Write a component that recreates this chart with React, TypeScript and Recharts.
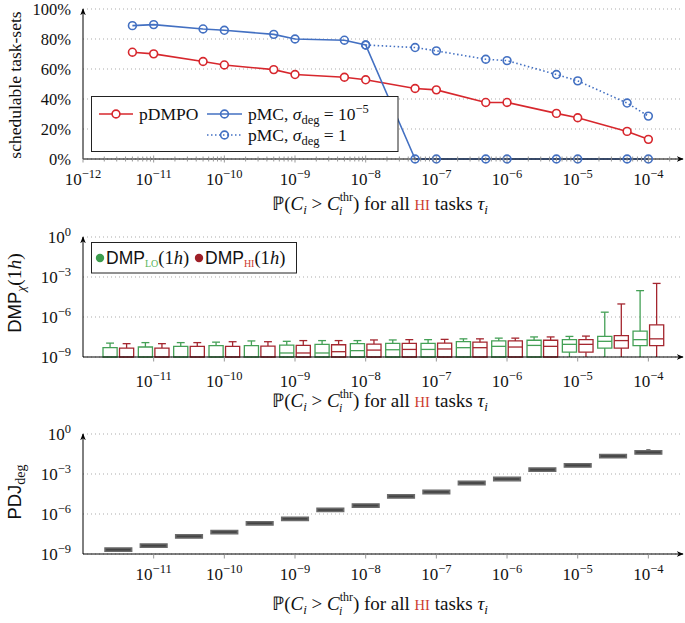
import React from 'react';
import {
  CartesianGrid,
  ComposedChart,
  Line,
  ReferenceArea,
  ReferenceLine,
  Scatter,
  XAxis,
  YAxis,
} from 'recharts';

// ---- panel 1: schedulability ----
const THRESHOLDS = [5e-12, 1e-11, 5e-11, 1e-10, 5e-10, 1e-9, 5e-9, 1e-8, 5e-8, 1e-7, 5e-7, 1e-6, 5e-6, 1e-5, 5e-5, 1e-4];
const PDMPO = [71.2, 70.1, 65, 62.7, 59.6, 56.3, 54.5, 52.8, 47, 46.1, 37.7, 37.7, 30.4, 27.5, 18.4, 13.1];
const PMC_DEG_1E5 = [88.9, 89.6, 86.7, 85.8, 83.1, 80, 79.2, 76, 0, 0, 0, 0, 0, 0, 0, 0];
const PMC_DEG_1 = [null, null, null, null, null, null, null, 76, 74.3, 72.1, 66.5, 65.6, 56.3, 52.1, 37.3, 28.6];
const PCT_TICKS = [0, 20, 40, 60, 80, 100];
const DECADE_TICKS = [1e-12, 1e-11, 1e-10, 1e-9, 1e-8, 1e-7, 1e-6, 1e-5, 1e-4];
const MINOR_STEPS = [2, 3, 4, 5, 6, 7, 8, 9];

// ---- panels 2 and 3: one group per threshold, half a decade apart ----
const BOX_POS = [-11.5, -11, -10.5, -10, -9.5, -9, -8.5, -8, -7.5, -7, -6.5, -6, -5.5, -5, -4.5, -4];
const EXP_TICKS = [-11, -10, -9, -8, -7, -6, -5, -4];
const LOG_TICKS = [1e-9, 1e-6, 1e-3, 1];

const LO_MAX = [1.1e-8, 1.2e-8, 1.2e-8, 1.3e-8, 1.6e-8, 1.5e-8, 1.7e-8, 1.7e-8, 1.9e-8, 2.0e-8, 2.3e-8, 2.6e-8, 3.2e-8, 3.5e-8, 2.3e-6, 9.5e-5];
const LO_Q3 = [5.0e-9, 5.6e-9, 6.3e-9, 7.1e-9, 7.1e-9, 7.9e-9, 8.9e-9, 1.0e-8, 1.05e-8, 1.05e-8, 1.4e-8, 1.6e-8, 1.8e-8, 2.0e-8, 3.5e-8, 8.7e-8];
const LO_MED = [1e-9, 1e-9, 1e-9, 1e-9, 1e-9, 2.0e-9, 2.0e-9, 3.0e-9, 3.5e-9, 3.7e-9, 5.0e-9, 6.3e-9, 7.4e-9, 8.9e-9, 1.5e-8, 2.0e-8];
const LO_Q1 = [1e-9, 1e-9, 1e-9, 1e-9, 1e-9, 1e-9, 1e-9, 1e-9, 1e-9, 1e-9, 1e-9, 1e-9, 1e-9, 2.3e-9, 4.7e-9, 7.1e-9];
const LO_MIN = [1e-9, 1e-9, 1e-9, 1e-9, 1e-9, 1e-9, 1e-9, 1e-9, 1e-9, 1e-9, 1e-9, 1e-9, 1e-9, 1e-9, 1e-9, 1e-9];

const HI_MAX = [1.0e-8, 1.0e-8, 1.2e-8, 1.4e-8, 1.4e-8, 1.7e-8, 1.7e-8, 1.9e-8, 2.0e-8, 2.1e-8, 2.3e-8, 2.6e-8, 3.2e-8, 3.7e-8, 9.5e-6, 3.3e-4];
const HI_Q3 = [4.7e-9, 4.7e-9, 6.3e-9, 6.3e-9, 6.6e-9, 7.4e-9, 8.3e-9, 9.3e-9, 1.05e-8, 1.1e-8, 1.3e-8, 1.6e-8, 1.8e-8, 2.0e-8, 4.0e-8, 2.6e-7];
const HI_MED = [1e-9, 1e-9, 1e-9, 1e-9, 1e-9, 2.0e-9, 2.5e-9, 3.3e-9, 3.7e-9, 4.0e-9, 5.0e-9, 5.6e-9, 6.3e-9, 8.9e-9, 1.7e-8, 2.3e-8];
const HI_Q1 = [1e-9, 1e-9, 1e-9, 1e-9, 1e-9, 1e-9, 1e-9, 1e-9, 1e-9, 1e-9, 1e-9, 1e-9, 1e-9, 2.3e-9, 4.7e-9, 7.1e-9];
const HI_MIN = [1e-9, 1e-9, 1e-9, 1e-9, 1e-9, 1e-9, 1e-9, 1e-9, 1e-9, 1e-9, 1e-9, 1e-9, 1e-9, 1e-9, 1e-9, 1e-9];

const PDJ_Q1 = [1.55e-9, 3.1e-9, 1.55e-8, 3.25e-8, 1.5e-7, 3.25e-7, 1.5e-6, 3.2e-6, 1.55e-5, 3.3e-5, 1.55e-4, 3.1e-4, 1.55e-3, 3.25e-3, 1.6e-2, 3.1e-2];
const PDJ_MED = [2.1e-9, 4.2e-9, 2.1e-8, 4.4e-8, 2.0e-7, 4.4e-7, 2.0e-6, 4.3e-6, 2.1e-5, 4.5e-5, 2.1e-4, 4.2e-4, 2.1e-3, 4.4e-3, 2.2e-2, 4.2e-2];
const PDJ_Q3 = [2.85e-9, 5.7e-9, 2.85e-8, 5.9e-8, 2.7e-7, 5.9e-7, 2.7e-6, 5.8e-6, 2.85e-5, 6.1e-5, 2.85e-4, 5.7e-4, 2.85e-3, 5.9e-3, 3.0e-2, 5.7e-2];
const PDJ_MAX = [2.85e-9, 5.7e-9, 2.85e-8, 5.9e-8, 2.7e-7, 5.9e-7, 2.7e-6, 5.8e-6, 2.85e-5, 6.1e-5, 2.85e-4, 5.7e-4, 2.85e-3, 5.9e-3, 3.0e-2, 6.6e-2];

const SERIF = '"Liberation Serif", "Times New Roman", serif';
const SANS = '"Liberation Sans", Arial, sans-serif';
const RED = '#d7272d';
const BLUE = '#4370c2';
const GREEN = '#44a056';
const DARKRED = '#a4262f';
const HI_RED = '#cc3b2e';
const LO_GREEN = '#5cb65c';
const GRID = '#ababab';

const X_MAX = 3.09e-4;
const X_MAX_EXP = -3.51;
const LOG_MIN = 1e-9;

const successData = THRESHOLDS.map((x, i) => ({ x, pdmpo: PDMPO[i], pmc5: PMC_DEG_1E5[i], pmc1: PMC_DEG_1[i] }));
const xTicks = [
  ...DECADE_TICKS,
  ...DECADE_TICKS.flatMap(d => MINOR_STEPS.map(s => s * d)).filter(v => v < 2.5e-4),
].sort((a, b) => a - b);

const makeBoxes = (min: number[], q1: number[], med: number[], q3: number[], max: number[], shift: number) =>
  BOX_POS.map((p, i) => ({ x: p + shift, min: min[i], q1: q1[i], med: med[i], q3: q3[i], max: max[i] }));

const loBoxes = makeBoxes(LO_MIN, LO_Q1, LO_MED, LO_Q3, LO_MAX, -0.117);
const hiBoxes = makeBoxes(HI_MIN, HI_Q1, HI_MED, HI_Q3, HI_MAX, 0.117);
const pdjBoxes = makeBoxes(PDJ_Q1, PDJ_Q1, PDJ_MED, PDJ_Q3, PDJ_MAX, 0);

type Box = ReturnType<typeof makeBoxes>[number];

function boxElements(boxes: Box[], id: string, color: string, fill: string, half: number, cap: number) {
  return boxes.flatMap((b, i) => {
    const els = [];
    if (b.max > b.q3) {
      els.push(
        <ReferenceLine key={`${id}w${i}`} segment={[{ x: b.x, y: b.q3 }, { x: b.x, y: b.max }]}
          stroke={color} strokeWidth={1.3} ifOverflow="visible" />,
        <ReferenceLine key={`${id}c${i}`} segment={[{ x: b.x - cap, y: b.max }, { x: b.x + cap, y: b.max }]}
          stroke={color} strokeWidth={1.3} ifOverflow="visible" />,
      );
    }
    if (b.q1 > b.min) {
      els.push(
        <ReferenceLine key={`${id}l${i}`} segment={[{ x: b.x, y: b.min }, { x: b.x, y: b.q1 }]}
          stroke={color} strokeWidth={1.3} ifOverflow="visible" />,
      );
    }
    els.push(
      <ReferenceArea key={`${id}b${i}`} x1={b.x - half} x2={b.x + half} y1={b.q1} y2={b.q3}
        fill={fill} fillOpacity={1} stroke={color} strokeWidth={1.3} ifOverflow="visible" />,
    );
    return els;
  });
}

const medianShape = (color: string, half: number) => (props: any) => (
  <line x1={props.cx - half} x2={props.cx + half} y1={props.cy} y2={props.cy} stroke={color} strokeWidth={1.3} />
);

function PowerLabel({ x, y, exp, anchor }: { x: number; y: number; exp: number; anchor: 'middle' | 'end' }) {
  return (
    <text x={x} y={y} textAnchor={anchor} fontFamily={SERIF} fontSize={17} fill="#111">
      10<tspan fontSize={12.5} dy={-7.5}>{exp < 0 ? `\u2212${-exp}` : `${exp}`}</tspan>
    </text>
  );
}

const DecadeTick = (props: any) => {
  const { x, y, payload } = props;
  const lg = Math.log10(payload.value);
  const exp = Math.round(lg);
  const major = Math.abs(lg - exp) < 1e-6;
  const h = major ? 3.5 : 2.5;
  return (
    <g>
      <line x1={x} x2={x} y1={y - h} y2={y + h} stroke="#8c8c8c" strokeWidth={0.9} />
      {major && <PowerLabel x={x} y={y + 26} exp={exp} anchor="middle" />}
    </g>
  );
};

const expTick = (labelDy: number) => (props: any) => {
  const { x, y, payload } = props;
  return (
    <g>
      <line x1={x} x2={x} y1={y} y2={y + 4.5} stroke="#8c8c8c" strokeWidth={0.9} />
      <PowerLabel x={x} y={y + labelDy} exp={payload.value} anchor="middle" />
    </g>
  );
};

const LogYTick = (props: any) => {
  const { x, y, payload } = props;
  return <PowerLabel x={x - 12} y={y + 6} exp={Math.round(Math.log10(payload.value))} anchor="end" />;
};

const PctTick = (props: any) => {
  const { x, y, payload } = props;
  return (
    <text x={x - 12} y={y + 6} textAnchor="end" fontFamily={SERIF} fontSize={16.5} fill="#111">
      {payload.value}%
    </text>
  );
};

const xAxisLine = { stroke: '#000', strokeWidth: 1, markerEnd: 'url(#axisArrow)' };
const yAxisLine = { stroke: '#000', strokeWidth: 1, markerStart: 'url(#axisArrow)' };

function XTitle({ y }: { y: number }) {
  return (
    <text x={380} y={y} textAnchor="middle" fontFamily={SERIF} fontSize={19} fill="#111">
      <tspan>ℙ(</tspan>
      <tspan fontStyle="italic">C</tspan>
      <tspan fontSize={13} fontStyle="italic" dy={4}>i</tspan>
      <tspan dy={-4}>{' > '}</tspan>
      <tspan fontStyle="italic">C</tspan>
      <tspan fontSize={12} dy={-9}>thr</tspan>
      <tspan fontSize={12} fontStyle="italic" dx={-14} dy={14}>i</tspan>
      <tspan dx={10.5} dy={-5}>{') for all '}</tspan>
      <tspan fill={HI_RED} fontSize={14.5}>HI</tspan>
      <tspan>{' tasks '}</tspan>
      <tspan fontStyle="italic">τ</tspan>
      <tspan fontSize={13} fontStyle="italic" dy={4}>i</tspan>
    </text>
  );
}

function Overlay() {
  return (
    <svg width={685} height={623} style={{ position: 'absolute', left: 0, top: 0, pointerEvents: 'none' }}>
      {/* y titles */}
      <text transform="rotate(-90)" x={-85} y={21} textAnchor="middle" fontFamily={SERIF} fontSize={17.5} fill="#111">
        schedulable task-sets
      </text>
      <text transform="rotate(-90)" x={-293} y={21} textAnchor="middle" fontFamily={SANS} fontSize={18.5} fill="#111">
        DMP<tspan fontFamily={SERIF} fontStyle="italic" fontSize={13.5} dy={4}>χ</tspan>
        <tspan fontFamily={SERIF} fontSize={19.5} dy={-4}>(1</tspan>
        <tspan fontFamily={SERIF} fontSize={19.5} fontStyle="italic">h</tspan>
        <tspan fontFamily={SERIF} fontSize={19.5}>)</tspan>
      </text>
      <text transform="rotate(-90)" x={-492} y={21} textAnchor="middle" fontFamily={SANS} fontSize={18.5} fill="#111">
        PDJ<tspan fontFamily={SERIF} fontSize={14} dy={4}>deg</tspan>
      </text>

      <XTitle y={210} />
      <XTitle y={407} />
      <XTitle y={610} />

      {/* legend, panel 1 */}
      <rect x={91.5} y={96.5} width={306.5} height={55} fill="#fff" stroke="#222" strokeWidth={1} />
      <line x1={99} x2={133} y1={114} y2={114} stroke={RED} strokeWidth={1.6} />
      <circle cx={116} cy={114} r={3.9} fill="#fff" stroke={RED} strokeWidth={1.6} />
      <text x={139} y={119.5} fontFamily={SERIF} fontSize={17.5} fill="#111">pDMPO</text>
      <line x1={207} x2={242} y1={114} y2={114} stroke={BLUE} strokeWidth={1.6} />
      <circle cx={224.5} cy={114} r={3.9} fill="none" stroke={BLUE} strokeWidth={1.6} />
      <text x={248} y={119.5} fontFamily={SERIF} fontSize={17.5} fill="#111">
        pMC, <tspan fontStyle="italic">σ</tspan>
        <tspan fontSize={12.5} dy={4}>deg</tspan>
        <tspan dy={-4}>{' = 10'}</tspan>
        <tspan fontSize={12.5} dy={-7}>−5</tspan>
      </text>
      <line x1={207} x2={242} y1={135} y2={135} stroke={BLUE} strokeWidth={1.6} strokeDasharray="1.5 2.5" />
      <circle cx={224.5} cy={135} r={3.9} fill="none" stroke={BLUE} strokeWidth={1.6} />
      <text x={248} y={140.5} fontFamily={SERIF} fontSize={17.5} fill="#111">
        pMC, <tspan fontStyle="italic">σ</tspan>
        <tspan fontSize={12.5} dy={4}>deg</tspan>
        <tspan dy={-4}>{' = 1'}</tspan>
      </text>

      {/* legend, panel 2 */}
      <rect x={91.5} y={242.5} width={205} height={30.5} fill="#fff" stroke="#222" strokeWidth={1} />
      <circle cx={100} cy={258} r={4.2} fill="#3c9c4d" />
      <text x={106} y={264} fontFamily={SANS} fontSize={17.5} fill="#111">
        DMP<tspan fontFamily={SERIF} fontSize={10} dy={3} fill={LO_GREEN}>LO</tspan>
        <tspan fontFamily={SERIF} fontSize={18.5} dy={-3}>(1</tspan>
        <tspan fontFamily={SERIF} fontSize={18.5} fontStyle="italic">h</tspan>
        <tspan fontFamily={SERIF} fontSize={18.5}>)</tspan>
      </text>
      <circle cx={199} cy={258} r={4.2} fill="#9e1f27" />
      <text x={205} y={264} fontFamily={SANS} fontSize={17.5} fill="#111">
        DMP<tspan fontFamily={SERIF} fontSize={10} dy={3} fill={HI_RED}>HI</tspan>
        <tspan fontFamily={SERIF} fontSize={18.5} dy={-3}>(1</tspan>
        <tspan fontFamily={SERIF} fontSize={18.5} fontStyle="italic">h</tspan>
        <tspan fontFamily={SERIF} fontSize={18.5}>)</tspan>
      </text>
    </svg>
  );
}

export default function App() {
  const loMed = loBoxes.filter(b => b.med > LOG_MIN).map(b => ({ x: b.x, y: b.med }));
  const hiMed = hiBoxes.filter(b => b.med > LOG_MIN).map(b => ({ x: b.x, y: b.med }));
  const pdjMed = pdjBoxes.map(b => ({ x: b.x, y: b.med }));

  return (
    <div style={{ position: 'absolute', left: 0, top: 0, width: 685, height: 623, background: '#fff', overflow: 'hidden' }}>
      <svg width={0} height={0} style={{ position: 'absolute' }}>
        <defs>
          <marker id="axisArrow" viewBox="0 0 10 10" refX={9} refY={5} markerWidth={7} markerHeight={7}
            orient="auto-start-reverse" markerUnits="userSpaceOnUse">
            <path d="M0,1 L10,5 L0,9 L3,5 z" fill="#000" />
          </marker>
        </defs>
      </svg>

      <div style={{ position: 'absolute', left: 0, top: 0 }}>
        <ComposedChart width={685} height={215} data={successData} margin={{ top: 9, right: 2, bottom: 26, left: 0 }}>
          <CartesianGrid vertical={false} stroke={GRID} strokeDasharray="1 3" />
          <XAxis dataKey="x" type="number" scale="log" domain={[1e-12, X_MAX]} allowDataOverflow ticks={xTicks}
            interval={0} tickLine={false} tickSize={0} tickMargin={0} tick={DecadeTick} axisLine={xAxisLine} height={30} />
          <YAxis type="number" domain={[0, 100]} ticks={PCT_TICKS} interval={0} width={83} tickLine={false}
            tickSize={0} tickMargin={0} tick={PctTick} axisLine={yAxisLine} />
          <Line dataKey="pdmpo" stroke={RED} strokeWidth={1.6} isAnimationActive={false} activeDot={false}
            dot={{ r: 3.9, fill: '#fff', stroke: RED, strokeWidth: 1.6 }} />
          <Line dataKey="pmc5" stroke={BLUE} strokeWidth={1.6} isAnimationActive={false} activeDot={false}
            dot={{ r: 3.9, fill: 'none', stroke: BLUE, strokeWidth: 1.6 }} />
          <Line dataKey="pmc1" stroke={BLUE} strokeWidth={1.6} strokeDasharray="1.5 2.5" isAnimationActive={false}
            activeDot={false} connectNulls={false}
            dot={{ r: 3.9, fill: 'none', stroke: BLUE, strokeWidth: 1.6, strokeDasharray: 'none' }} />
        </ComposedChart>
      </div>

      <div style={{ position: 'absolute', left: 0, top: 220 }}>
        <ComposedChart width={685} height={200} margin={{ top: 17, right: 2, bottom: 33, left: 0 }}>
          <CartesianGrid vertical={false} stroke={GRID} strokeDasharray="1 3" />
          <XAxis dataKey="x" type="number" domain={[-12, X_MAX_EXP]} allowDataOverflow ticks={EXP_TICKS} interval={0}
            tickLine={false} tickSize={0} tickMargin={0} tick={expTick(30)} axisLine={xAxisLine} height={30} />
          <YAxis dataKey="y" type="number" scale="log" domain={[LOG_MIN, 1]} allowDataOverflow ticks={LOG_TICKS}
            interval={0} width={83} tickLine={false} tickSize={0} tickMargin={0} tick={LogYTick} axisLine={yAxisLine} />
          {boxElements(loBoxes, 'lo', GREEN, 'none', 0.1, 0.056)}
          {boxElements(hiBoxes, 'hi', DARKRED, 'none', 0.1, 0.056)}
          <Scatter data={loMed} shape={medianShape(GREEN, 7)} isAnimationActive={false} />
          <Scatter data={hiMed} shape={medianShape(DARKRED, 7)} isAnimationActive={false} />
        </ComposedChart>
      </div>

      <div style={{ position: 'absolute', left: 0, top: 420 }}>
        <ComposedChart width={685} height={203} margin={{ top: 14, right: 2, bottom: 39, left: 0 }}>
          <CartesianGrid vertical={false} stroke={GRID} strokeDasharray="1 3" />
          <XAxis dataKey="x" type="number" domain={[-12, X_MAX_EXP]} allowDataOverflow ticks={EXP_TICKS} interval={0}
            tickLine={false} tickSize={0} tickMargin={0} tick={expTick(26)} axisLine={xAxisLine} height={30} />
          <YAxis dataKey="y" type="number" scale="log" domain={[LOG_MIN, 1]} allowDataOverflow ticks={LOG_TICKS}
            interval={0} width={83} tickLine={false} tickSize={0} tickMargin={0} tick={LogYTick} axisLine={yAxisLine} />
          {boxElements(pdjBoxes, 'pdj', '#6b6b6b', '#555555', 0.19, 0.03)}
          <Scatter data={pdjMed} shape={medianShape('#444', 12)} isAnimationActive={false} />
        </ComposedChart>
      </div>

      <Overlay />
    </div>
  );
}
